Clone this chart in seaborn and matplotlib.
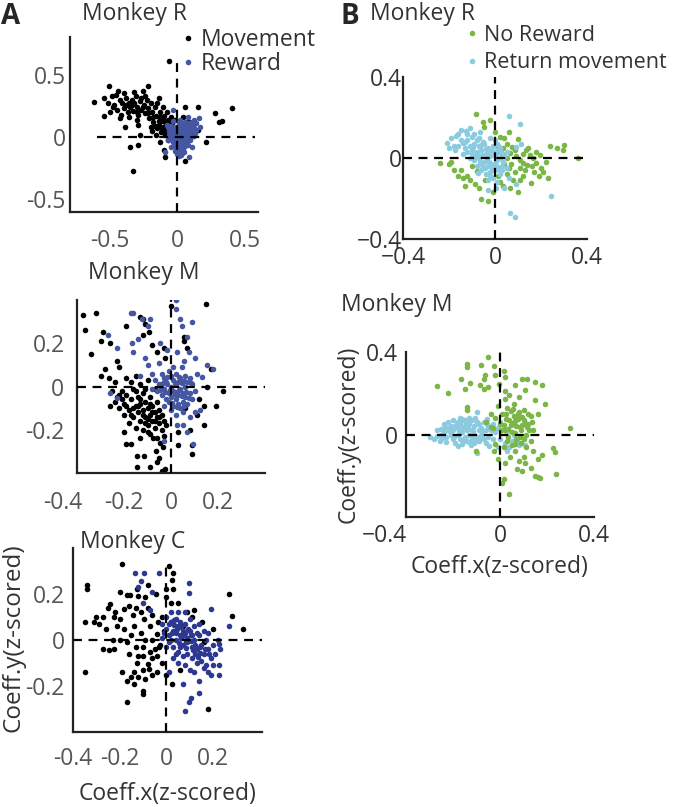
import numpy as np
import pandas as pd
import seaborn as sns
from matplotlib import pyplot as plt
from matplotlib.lines import Line2D
from matplotlib.transforms import ScaledTranslation

# Panel A, Monkey R  (Movement = black, Reward = blue)
mov_R = [(-0.62,0.28),(-0.55,0.31),(-0.51,0.41),(-0.49,0.33),(-0.47,0.26),(-0.44,0.37),(-0.45,0.22),(-0.43,0.30),
         (-0.41,0.27),(-0.40,0.23),(-0.38,0.31),(-0.37,0.20),(-0.36,0.27),(-0.35,0.24),(-0.34,0.30),(-0.33,0.21),
         (-0.32,0.27),(-0.31,0.33),(-0.30,0.24),(-0.29,0.18),(-0.28,0.29),(-0.27,0.22),(-0.26,0.37),(-0.25,0.26),
         (-0.24,0.19),(-0.23,0.30),(-0.22,0.41),(-0.22,0.23),(-0.21,0.15),(-0.20,0.27),(-0.19,0.20),(-0.18,0.12),
         (-0.17,0.24),(-0.16,0.17),(-0.15,0.27),(-0.14,0.31),(-0.14,0.10),(-0.13,0.20),(-0.12,0.13),(-0.11,0.24),
         (-0.10,0.08),(-0.10,0.17),(-0.09,0.12),(-0.08,0.05),(-0.08,0.20),(-0.07,0.14),(-0.06,0.09),(-0.05,0.03),
         (-0.05,0.16),(-0.04,0.11),(-0.12,0.04),(-0.15,0.07),(-0.17,0.09),(-0.19,0.05),(-0.13,0.16),(-0.11,0.06),
         (-0.09,0.02),(-0.07,-0.02),(-0.06,0.06),(-0.55,0.17),(-0.50,0.20),(-0.43,0.15),(-0.39,0.08),(-0.29,0.10),
         (-0.35,-0.08),(-0.29,-0.06),(-0.33,-0.27),(-0.28,0.02),(-0.13,-0.04),(-0.10,-0.10),(-0.09,-0.16),
         (-0.065,0.61),(0.06,0.24),(0.15,0.24),(0.28,0.19),(0.31,0.12),(0.33,0.13),(0.41,0.23),(0.21,-0.04),
         (0.06,-0.19),(0.15,0.06),(0.10,0.08),(0.04,0.16),(0.08,0.13),(-0.46,0.34),(-0.40,0.35),(-0.32,0.36),
         (-0.27,0.31),(-0.24,0.33),(-0.36,0.16),(-0.30,0.14),(-0.20,0.08),(-0.16,0.02),(-0.03,0.06),(-0.02,0.14),
         (0.02,0.10),(0.12,0.02),(-0.42,0.18),(-0.48,0.24),(-0.52,0.27),
         (-0.38,0.26),(-0.34,0.26),(-0.30,0.20),(-0.26,0.24),(-0.22,0.19),(-0.18,0.16),(-0.14,0.13),(-0.12,0.08),
         (-0.10,0.13),(-0.06,0.12)]
rew_R = [(0.00,0.00),(0.01,-0.02),(0.02,0.01),(-0.01,-0.04),(0.03,-0.03),(0.00,0.05),(0.02,0.06),(0.04,0.03),
         (0.05,0.07),(0.06,0.04),(0.07,0.08),(0.08,0.10),(0.09,0.06),(0.10,0.09),(0.11,0.12),(0.12,0.07),
         (0.08,0.02),(0.06,-0.01),(0.05,-0.05),(0.04,-0.08),(0.03,-0.11),(0.02,-0.13),(0.01,-0.15),(0.00,-0.12),
         (-0.01,-0.10),(-0.02,-0.07),(-0.03,-0.04),(-0.04,-0.01),(-0.05,0.02),(-0.06,0.05),(-0.07,0.08),
         (-0.08,0.10),(-0.05,0.09),(-0.03,0.06),(-0.02,0.03),(-0.01,0.08),(0.01,0.11),(0.03,0.09),(0.05,0.11),
         (0.07,0.05),(0.09,0.03),(0.10,0.04),(0.11,0.05),(0.13,0.03),(0.07,-0.03),(0.06,-0.07),(0.04,-0.10),
         (0.02,-0.09),(0.01,-0.06),(-0.01,-0.01),(0.00,0.02),(0.02,-0.05),(0.03,0.00),(0.04,0.05),(0.01,0.04),
         (-0.02,-0.11),(0.00,-0.08),(0.03,-0.14),(0.05,-0.12),(0.08,-0.06),(0.09,-0.02),(0.12,0.01),(0.14,0.06),
         (0.14,0.11),(0.12,0.14),(-0.06,0.02),(-0.04,0.07),(-0.07,-0.02),(-0.03,0.13),(-0.03,0.22),(0.08,0.16),
         (0.17,0.08),(0.085,-0.16),(-0.09,-0.12),(0.11,-0.08),(0.16,0.15),(-0.05,-0.08),(0.02,0.14),(0.06,0.12),
         (0.10,0.00),(0.015,-0.03),(0.035,0.02),(0.055,0.01),(-0.015,0.01),(0.025,-0.07),(0.045,-0.02),
         (0.065,0.09),(0.085,0.07),
         (0.005,0.035),(0.025,0.045),(0.045,0.065),(0.065,0.03),(0.085,0.045),(0.105,0.065),(0.095,0.11),
         (0.075,0.115),(-0.005,-0.055),(0.015,-0.09),(0.035,-0.06),(0.055,-0.035),(0.075,-0.015),(-0.025,0.05),
         (-0.045,0.04),(-0.055,0.075),(0.035,-0.125),(0.015,-0.115),(-0.005,-0.135),(0.045,0.09),(0.115,0.09),
         (0.125,0.11),(0.02,0.085),(-0.015,0.06),(0.005,0.065)]

# Panel A, Monkey M
mov_M = [(-0.375,0.33),(-0.32,0.34),(-0.365,0.26),(-0.29,0.25),(-0.30,0.21),(-0.26,0.20),(-0.34,0.15),(-0.19,0.28),
         (-0.13,0.32),(-0.11,0.29),(-0.095,0.25),(-0.12,0.24),(-0.08,0.19),(0.15,0.38),(0.00,0.37),(-0.03,0.18),
         (-0.025,0.13),(-0.23,0.12),(-0.22,0.09),(-0.30,0.05),(-0.28,0.08),(-0.265,0.04),(-0.24,0.02),(0.055,0.21),
         (0.07,0.18),(0.055,0.23),(-0.12,0.31),(-0.06,0.16),
         (-0.25,-0.02),(-0.23,-0.05),(-0.21,-0.02),(-0.20,-0.08),(-0.19,-0.04),(-0.18,-0.11),(-0.17,-0.06),
         (-0.16,-0.14),(-0.16,-0.01),(-0.15,-0.09),(-0.14,-0.05),(-0.14,-0.12),(-0.13,-0.16),(-0.13,-0.08),
         (-0.12,-0.11),(-0.12,-0.03),(-0.11,-0.14),(-0.11,-0.07),(-0.10,-0.10),(-0.10,-0.18),(-0.09,-0.13),
         (-0.09,-0.05),(-0.08,-0.09),(-0.08,-0.16),(-0.07,-0.12),(-0.07,-0.19),(-0.06,-0.14),(-0.06,-0.07),
         (-0.05,-0.17),(-0.05,-0.11),(-0.04,-0.20),(-0.04,-0.13),(-0.03,-0.16),(-0.03,-0.23),(-0.02,-0.18),
         (-0.18,-0.17),(-0.20,-0.13),(-0.22,-0.10),(-0.24,-0.07),(-0.26,-0.09),(-0.15,-0.19),(-0.12,-0.20),
         (-0.09,-0.22),(-0.06,-0.24),(-0.17,0.02),(-0.13,0.01),(-0.10,0.03),(-0.07,-0.01),(-0.19,0.04),
         (-0.15,0.05),(-0.11,-0.01),
         (-0.20,-0.21),(-0.19,-0.265),(-0.17,-0.265),(-0.145,-0.32),(-0.115,-0.32),(-0.145,-0.37),(-0.09,-0.37),
         (-0.06,-0.35),(-0.04,-0.39),(-0.025,-0.38),(-0.065,-0.30),(-0.045,-0.26),(-0.075,-0.24),(-0.13,-0.24),
         (-0.10,-0.21),(0.03,-0.21),(0.03,-0.27),(0.09,-0.31),(0.09,-0.27),(0.14,-0.18),(0.14,-0.09),(0.19,-0.09),
         (0.22,-0.02),(0.155,0.00),(0.17,0.08),(-0.05,-0.33),(-0.035,-0.28),(0.06,-0.10),(0.11,-0.13),
         (0.08,-0.20),(0.12,-0.06),
         (-0.14,-0.09),(-0.12,-0.13),(-0.10,-0.15),(-0.08,-0.12),(-0.16,-0.10),(-0.19,-0.09),(-0.21,-0.06),
         (-0.11,-0.17),(-0.07,-0.16),(-0.13,-0.06),(-0.05,-0.14),(-0.17,-0.13),(-0.09,-0.08),(-0.15,-0.02),
         (-0.22,-0.04)]
rew_M = [(0.02,0.40),(0.02,0.36),(0.04,0.31),(0.09,0.30),(0.047,0.28),(-0.16,0.34),(-0.125,0.31),(-0.09,0.31),
         (-0.27,0.24),(-0.23,0.18),(-0.165,0.20),(-0.16,0.16),(-0.11,0.13),(-0.10,0.10),(-0.045,0.20),(-0.017,0.17),
         (0.025,0.16),(0.075,0.16),(0.055,0.12),(0.155,0.10),(0.18,0.08),(0.13,0.045),(0.025,-0.18),(0.05,-0.18),
         (0.08,-0.14),(0.10,-0.12),(0.125,-0.11),(0.07,-0.21),(0.095,-0.265),(-0.03,-0.25),(-0.23,-0.055),
         (-0.26,-0.03),(-0.17,0.34),(-0.10,0.28),(-0.14,0.22),(0.07,0.23),(0.10,0.13),(0.045,0.09),(-0.05,0.11),
         (-0.08,0.06),(-0.13,0.05),(0.11,0.06),
         (0.00,0.00),(0.01,-0.02),(-0.01,-0.03),(0.02,0.01),(0.03,-0.04),(-0.02,0.02),(0.00,-0.05),(0.01,0.03),
         (-0.03,-0.01),(0.04,-0.01),(0.02,-0.06),(-0.01,-0.07),(0.03,0.02),(-0.04,-0.04),(0.05,-0.03),(0.00,0.05),
         (-0.02,-0.06),(0.04,0.04),(-0.05,0.01),(0.06,0.00),(0.01,-0.09),(0.03,-0.08),(-0.03,0.04),(0.05,-0.07),
         (0.06,-0.05),(0.07,0.02),(-0.06,-0.02),(0.02,0.06),(-0.01,0.07),(0.04,-0.10),(0.07,-0.08),(0.08,-0.03),
         (-0.07,0.03),(-0.04,0.06),(0.00,-0.11),(0.06,0.05),(0.08,0.04),(-0.08,-0.01),(0.09,-0.06),(0.05,-0.12),
         (0.02,-0.13),(-0.03,-0.09),(0.10,-0.02),(0.09,0.01),(0.01,0.09),(0.035,-0.015),(-0.015,0.01),
         (0.015,-0.035),(0.045,0.015),(-0.025,-0.025),
         (0.025,-0.025),(-0.005,-0.015),(0.015,0.015),(0.045,-0.045),(-0.035,0.015),(0.055,0.025),(0.005,-0.075),
         (0.035,0.045),(-0.045,-0.015),(0.065,-0.025),(0.025,-0.095),(-0.015,0.045),(0.075,-0.055),(0.055,-0.09),
         (0.085,0.015)]

# Panel A, Monkey C
mov_C = [(-0.19,0.33),(-0.34,0.24),(-0.34,0.22),(-0.35,0.08),(-0.31,0.08),(-0.29,0.07),(-0.35,-0.14),(-0.20,0.21),
         (-0.17,0.195),(-0.155,0.195),(-0.125,0.22),(-0.12,0.19),(-0.09,0.185),(-0.24,0.155),(-0.25,0.14),
         (-0.225,0.10),(-0.20,0.09),(-0.18,0.135),(-0.145,0.11),(-0.095,0.09),(-0.06,0.11),(-0.26,0.05),
         (-0.23,0.00),(-0.20,0.00),(-0.17,-0.01),(-0.225,-0.04),(-0.245,-0.045),(-0.12,-0.07),(-0.10,-0.07),
         (-0.125,-0.10),(-0.08,-0.105),(-0.06,-0.08),(-0.075,-0.125),(-0.10,-0.13),(-0.14,-0.14),(-0.19,-0.14),
         (-0.15,-0.16),(-0.14,-0.19),(-0.10,-0.22),(-0.10,-0.235),(-0.17,-0.27),(-0.04,-0.14),(0.00,-0.15),
         (0.023,-0.19),(0.01,0.32),(0.03,0.29),(0.025,0.26),(0.00,0.185),(0.02,0.16),(0.05,0.16),(0.09,0.12),
         (0.12,0.13),(0.155,0.077),(0.20,0.048),(0.27,0.20),(0.28,0.105),(0.33,0.05),(0.18,-0.30),(-0.025,-0.02),
         (-0.04,0.026),(-0.06,0.00),(-0.035,0.077),(-0.02,0.10),(-0.05,-0.04),
         (-0.22,0.12),(-0.16,0.15),(-0.13,0.14),(-0.11,0.12),(-0.08,0.14),(-0.07,0.06),(-0.14,0.06),(-0.18,0.05),
         (-0.21,0.06),(-0.27,0.10),(-0.15,0.02),(-0.11,0.03),(-0.09,0.00),(-0.13,-0.03),(-0.16,-0.06),
         (-0.10,-0.03),(-0.07,-0.05),(-0.04,-0.07),(-0.02,-0.10),(-0.09,-0.17),(-0.06,-0.15),(-0.12,-0.16),
         (-0.17,-0.18),(-0.03,-0.03),(-0.01,0.04),(0.02,0.08),(-0.045,0.20),(0.03,0.22),(-0.08,0.24),(0.00,0.22),
         (0.07,0.06),(0.11,0.10),(-0.30,0.10),(-0.27,-0.04),(0.16,-0.01),(0.06,-0.13)]
rew_C = [(-0.135,0.29),(-0.095,0.29),(-0.11,0.255),(-0.06,0.21),(-0.10,0.16),(-0.03,0.29),(0.097,0.25),
         (0.097,0.205),(0.19,0.135),(0.27,0.06),(0.226,-0.017),(0.23,-0.04),(0.226,-0.11),(0.226,-0.15),
         (0.19,-0.15),(0.16,-0.12),(0.14,-0.18),(0.104,-0.25),(0.097,-0.27),(0.08,-0.31),(0.14,-0.23),
         (0.011,-0.14),(0.07,-0.19),(-0.07,0.13),(-0.12,0.23),
         (0.00,0.05),(0.01,0.02),(0.02,0.08),(0.03,0.04),(0.04,0.00),(0.05,0.06),(0.06,0.02),(0.07,-0.02),
         (0.08,0.03),(0.09,-0.01),(0.10,0.04),(0.11,-0.03),(0.12,0.00),(0.13,-0.04),(0.14,0.02),(0.15,-0.02),
         (0.16,-0.06),(0.17,0.00),(0.18,-0.04),(0.19,-0.08),(0.20,-0.02),(0.21,-0.06),(0.22,0.00),(0.15,-0.09),
         (0.13,-0.10),(0.11,-0.08),(0.09,-0.06),(0.07,-0.07),(0.05,-0.05),(0.03,-0.03),(0.01,-0.01),(-0.01,0.03),
         (-0.02,0.07),(0.00,0.10),(0.02,0.12),(0.04,0.09),(0.06,0.08),(0.08,0.07),(0.10,0.09),(0.12,0.06),
         (0.14,0.07),(0.16,0.04),(0.18,0.03),(0.05,0.12),(0.08,0.12),(0.03,-0.08),(0.05,-0.10),(0.08,-0.11),
         (0.10,-0.13),(0.12,-0.14),(0.17,-0.11),(0.18,-0.14),(0.20,-0.11),(0.04,0.03),(0.06,-0.03),(0.09,0.01),
         (0.11,0.02),(0.13,0.03),(0.07,0.04),(0.02,0.00),(0.085,-0.035),(0.105,-0.005),(0.065,0.055),
         (0.035,0.065),(0.145,-0.055),(0.125,-0.06),(0.01,0.07),(0.00,-0.03),(-0.02,0.01),(0.04,-0.06),
         (0.025,0.03),(0.045,0.05),(0.065,0.01),(0.085,-0.01),(0.105,0.02),(0.125,-0.02),(0.145,-0.03),
         (0.165,-0.04),(0.185,-0.06),(0.095,0.05),(0.055,-0.015),(0.075,0.02),(0.115,-0.045),(0.135,-0.075),
         (0.035,0.085)]

# Panel B, Monkey R  (No Reward = green, Return movement = light blue)
norew_R = [(-0.084,0.216),(-0.052,0.18),(-0.02,0.187),(-0.05,0.155),(-0.24,-0.026),(-0.19,-0.018),(-0.18,-0.06),
           (-0.16,-0.09),(-0.14,-0.10),(-0.13,-0.14),(-0.12,-0.09),(-0.088,-0.13),(-0.06,-0.20),(-0.03,-0.21),
           (-0.10,-0.04),(-0.08,-0.065),(0.02,0.105),(0.04,0.097),(0.10,0.092),(0.035,0.048),(0.064,0.023),
           (0.086,0.04),(0.136,0.04),(0.15,0.015),(0.18,0.03),(0.195,0.015),(0.107,-0.01),(0.12,-0.026),
           (0.14,-0.034),(0.16,-0.04),(0.18,-0.026),(0.20,-0.05),(0.21,-0.07),(0.24,0.06),(0.27,0.047),
           (0.30,0.064),(0.295,0.04),(0.36,0.00),(0.157,-0.125),(0.10,-0.17),(0.107,-0.11),(0.064,-0.15),
           (0.035,-0.14),(0.02,-0.12),(0.013,-0.09),(0.05,-0.08),(0.078,-0.11),
           (0.03,0.02),(0.05,0.00),(0.07,-0.03),(0.09,0.01),(0.12,0.02),(0.13,-0.06),(0.11,-0.05),(0.085,-0.07),
           (0.06,-0.05),(0.04,-0.03),(0.02,-0.05),(0.01,0.03),(0.015,0.06),(0.05,0.07),(0.075,0.055),(0.165,0.00),
           (0.17,-0.07),(0.19,-0.09),(0.22,-0.02),(0.145,0.05),(-0.11,-0.11),(-0.15,-0.06),(-0.07,-0.15),
           (-0.045,-0.11),(-0.20,-0.03),(-0.01,-0.17),(0.00,0.13),(0.06,0.13),(0.23,-0.10),(0.12,-0.09)]
ret_R = [(0.06,0.207),(0.11,0.167),(-0.146,0.14),(-0.125,0.134),(-0.11,0.15),(-0.21,0.075),(-0.19,0.10),
         (-0.175,0.04),(-0.16,0.06),(-0.14,0.072),(-0.10,0.105),(-0.067,0.13),(-0.052,0.08),(0.245,-0.187),
         (0.064,-0.27),(0.085,-0.29),(-0.03,-0.157),(0.005,-0.15),(0.04,-0.15),(0.093,-0.13),(0.093,0.056),
         (0.115,0.07),(-0.08,0.09),(-0.12,0.09),(-0.17,0.11),(-0.18,0.06),(-0.13,0.05),(-0.20,0.05),(-0.09,0.12),
         (-0.10,0.02),(-0.09,-0.01),(-0.08,0.03),(-0.07,0.00),(-0.06,0.04),(-0.05,-0.02),(-0.04,0.02),
         (-0.03,-0.04),(-0.02,0.01),(-0.01,-0.03),(0.00,0.02),(0.01,-0.01),(0.02,0.00),(0.03,-0.04),(0.04,0.01),
         (-0.08,-0.04),(-0.06,-0.06),(-0.04,-0.08),(-0.02,-0.07),(0.00,-0.06),(0.02,-0.08),(-0.07,0.06),
         (-0.05,0.07),(-0.03,0.05),(-0.01,0.06),(0.01,0.04),(-0.11,0.00),(-0.12,0.03),(-0.095,0.055),
         (-0.045,-0.05),(-0.025,-0.02),(-0.015,0.035),(0.005,-0.035),(0.025,0.03),(-0.065,-0.02),(-0.085,0.01),
         (-0.035,0.00),(0.015,-0.055),(-0.055,0.015),(0.035,-0.02),(-0.01,-0.10),(-0.03,-0.11),(0.01,-0.12),
         (0.05,-0.05),(0.06,-0.10),(-0.075,-0.075),(-0.14,0.02),(0.00,0.09),(-0.02,0.10),(0.05,0.03),
         (-0.055,-0.035),(-0.035,0.03),(-0.015,-0.05),(0.005,0.01),(0.02,0.05),(-0.08,0.015),(-0.06,0.065),
         (-0.04,0.045),(-0.10,0.04),(-0.11,0.06),(-0.13,0.08),(-0.15,0.09),(0.03,-0.06),(-0.02,-0.09),
         (0.00,-0.03),(-0.09,0.07),(-0.16,0.12),(-0.07,0.10),(-0.12,0.12),(0.01,0.07)]

# Panel B, Monkey M
norew_M = [(-0.05,0.377),(-0.14,0.34),(-0.14,0.325),(-0.08,0.337),(-0.024,0.33),(0.015,0.31),(0.023,0.28),
           (-0.27,0.234),(-0.22,0.20),(-0.167,0.267),(-0.128,0.25),(-0.15,0.223),(-0.062,0.29),(-0.07,0.27),
           (-0.083,0.24),(-0.066,0.223),(-0.05,0.23),(-0.02,0.29),(-0.005,0.247),(0.022,0.21),(0.065,0.24),
           (0.093,0.27),(0.114,0.27),(0.107,0.215),(0.15,0.255),(0.177,0.24),(0.15,0.166),(0.19,0.15),
           (0.163,0.10),(0.297,0.033),(-0.14,0.133),(-0.14,0.12),(0.227,-0.067),(0.234,-0.086),(0.24,-0.19),
           (0.15,-0.20),(0.16,-0.205),(0.17,-0.21),(0.163,-0.12),(0.10,-0.11),(0.107,-0.14),(0.093,-0.175),
           (0.072,-0.167),(0.044,-0.11),(0.065,-0.078),(0.015,-0.216),(0.01,-0.235),(0.04,-0.29),(-0.024,-0.08),
           (-0.104,-0.078),(-0.02,-0.045),(-0.04,0.036),
           (0.00,0.05),(0.01,0.10),(0.02,0.02),(0.03,0.13),(0.04,0.07),(0.05,0.01),(0.06,0.09),(0.07,0.04),
           (0.08,0.11),(0.09,0.02),(0.10,0.07),(0.11,0.00),(0.12,0.05),(0.13,0.09),(0.14,0.02),(0.03,-0.03),
           (0.05,-0.05),(0.07,-0.02),(0.09,-0.04),(0.11,-0.06),(0.13,-0.03),(0.02,0.17),(0.04,0.19),(0.06,0.15),
           (0.08,0.18),(0.10,0.12),(0.12,0.10),(-0.02,0.08),(-0.04,0.10),(-0.06,0.06),(-0.03,0.03),(0.015,0.045),
           (0.035,0.025),(0.055,0.055),(0.075,0.075),(0.095,0.045),(0.115,0.035),(0.085,-0.01),(0.065,0.005),
           (0.045,0.115),(0.025,0.075),(-0.01,0.14),(0.14,-0.08),(0.18,-0.10),(0.13,-0.16),(0.08,-0.13),
           (0.02,-0.14),(-0.01,-0.12),
           (0.045,0.045),(0.065,0.065),(0.085,0.035),(0.105,0.055),(0.125,0.02),(0.025,0.10),(0.055,0.125),
           (0.075,0.10),(0.095,0.085),(0.035,-0.01),(0.065,-0.045),(0.10,-0.02),(0.135,0.06),(0.005,0.02),
           (0.015,-0.06)]
ret_M = [(-0.30,-0.01),(-0.266,-0.005),(-0.25,0.028),(-0.24,0.052),(-0.22,0.03),(-0.20,0.068),(-0.18,0.06),
         (-0.16,0.076),(-0.14,0.065),(-0.10,0.11),(-0.055,0.076),(-0.255,-0.03),(-0.23,-0.037),(-0.18,-0.054),
         (-0.16,-0.045),(-0.13,-0.037),(-0.104,-0.03),(-0.076,-0.016),(-0.048,-0.054),(0.03,-0.078),
         (0.107,-0.05),(0.072,-0.03),
         (-0.24,0.01),(-0.23,-0.01),(-0.22,0.06),(-0.21,0.00),(-0.20,0.02),(-0.20,-0.02),(-0.19,0.04),
         (-0.18,0.00),(-0.18,0.03),(-0.17,-0.02),(-0.17,0.05),(-0.16,0.01),(-0.16,0.03),(-0.15,-0.01),
         (-0.15,0.04),(-0.14,0.02),(-0.14,-0.03),(-0.13,0.00),(-0.13,0.05),(-0.12,0.02),(-0.12,-0.02),
         (-0.11,0.04),(-0.11,0.00),(-0.10,0.06),(-0.10,-0.01),(-0.09,0.02),(-0.09,0.05),(-0.08,0.00),
         (-0.08,0.03),(-0.07,0.06),(-0.07,-0.02),(-0.06,0.02),(-0.05,0.04),(-0.05,-0.01),(-0.04,0.02),
         (-0.03,0.05),(-0.03,-0.02),(-0.02,0.01),(-0.01,0.03),(0.00,-0.02),(0.01,0.02),(0.02,-0.04),(0.03,0.01),
         (0.05,-0.03),(0.06,0.00),(0.08,-0.05),(-0.21,0.04),(-0.19,-0.04),(-0.17,0.08),(-0.15,0.07),(-0.12,0.07),
         (-0.13,0.08),(-0.11,-0.04),(-0.09,-0.03),(-0.06,-0.04),(-0.25,0.00),(-0.27,0.02),(-0.28,-0.02),
         (-0.10,-0.09),(-0.01,-0.06),(0.00,0.06),(0.04,-0.06),
         (-0.215,0.015),(-0.195,-0.01),(-0.175,0.015),(-0.155,-0.03),(-0.135,0.03),(-0.115,0.015),(-0.095,-0.015),
         (-0.075,0.015),(-0.055,0.05),(-0.185,0.055),(-0.165,0.065),(-0.145,0.055),(-0.125,-0.05),(-0.105,0.08),
         (-0.235,0.035),(-0.245,-0.015)]

BLACK = '#000000'
BLUE = '#4557a3'
NAVY = '#2d3990'
GREEN = '#7ab648'
LBLUE = '#8ccbdf'
GRAY = '#555555'
DARK = '#333333'
FS = 16.5

sns.set_style('white')
plt.rcParams['font.family'] = ['Open Sans', 'DejaVu Sans']

W, H = 677, 807
fig = plt.figure(figsize=(W / 100, H / 100), dpi=100)


def px_axes(x0, y0, x1, y1):
    return fig.add_axes([x0 / W, 1 - y1 / H, (x1 - x0) / W, (y1 - y0) / H])


def scatter(ax, pts, color):
    d = pd.DataFrame(pts, columns=['x', 'y'])
    sns.scatterplot(data=d, x='x', y='y', ax=ax, color=color, s=16, linewidth=0, legend=False)


def style(ax, xlim, ylim, xt, yt, xl, yl, lab_col, xpad, ypad):
    ax.set_xlim(xlim)
    ax.set_ylim(ylim)
    ax.set_xticks(xt)
    ax.set_yticks(yt)
    ax.set_xticklabels(xl)
    ax.set_yticklabels(yl)
    ax.set_xlabel('')
    ax.set_ylabel('')
    for s in ['top', 'right']:
        ax.spines[s].set_visible(False)
    for s in ['left', 'bottom']:
        ax.spines[s].set_linewidth(1.6)
        ax.spines[s].set_color('#222222')
    ax.tick_params(axis='both', direction='in', length=3, width=1.2, labelsize=FS,
                   labelcolor=lab_col, color='#222222')
    ax.tick_params(axis='x', pad=xpad)
    ax.tick_params(axis='y', pad=ypad)
    ax.set_facecolor('none')


def dashes(ax, hx, vy):
    ax.hlines(0, hx[0], hx[1], colors='k', linestyles=(0, (4, 3)), linewidth=1.6, zorder=3)
    ax.vlines(0, vy[0], vy[1], colors='k', linestyles=(0, (4, 3)), linewidth=1.6, zorder=3)


def shift_first_xlabel(ax, dx):
    lab = ax.get_xticklabels()[0]
    lab.set_transform(lab.get_transform() + ScaledTranslation(dx / 100, 0, fig.dpi_scale_trans))


# ---- A: Monkey R
ax1 = px_axes(70, 37, 258, 212)
scatter(ax1, mov_R, BLACK)
scatter(ax1, rew_R, BLUE)
dashes(ax1, (-0.6, 0.58), (-0.6, 0.6))
style(ax1, (-0.8, 0.6), (-0.6, 0.8), [-0.5, 0, 0.5], [-0.5, 0, 0.5],
      ['-0.5', '0', '0.5'], ['-0.5', '0', '0.5'], GRAY, 12, 3)

# ---- A: Monkey M
ax2 = px_axes(77, 300, 265, 473)
scatter(ax2, mov_M, BLACK)
scatter(ax2, rew_M, BLUE)
dashes(ax2, (-0.4, 0.4), (-0.4, 0.4))
style(ax2, (-0.4, 0.4), (-0.4, 0.4), [-0.4, -0.2, 0, 0.2], [-0.2, 0, 0.2],
      ['-0.4', '-0.2', '0', '0.2'], ['-0.2', '0', '0.2'], GRAY, 13, 9)
shift_first_xlabel(ax2, -14)

# ---- A: Monkey C
ax3 = px_axes(73, 548, 262, 732)
scatter(ax3, mov_C, BLACK)
scatter(ax3, rew_C, NAVY)
dashes(ax3, (-0.4, 0.41), (-0.4, 0.33))
style(ax3, (-0.4, 0.41), (-0.4, 0.4), [-0.4, -0.2, 0, 0.2], [-0.2, 0, 0.2],
      ['-0.4', '-0.2', '0', '0.2'], ['-0.2', '0', '0.2'], GRAY, 11, 6)
ax3.set_ylabel('Coeff.y(z-scored)', fontsize=17.5, color=DARK)
ax3.yaxis.set_label_coords((26 - 73) / 189, (732 - 638) / 184)
ax3.set_xlabel('Coeff.x(z-scored)', fontsize=FS, color=DARK)
ax3.xaxis.set_label_coords(0.5, -(782 - 732) / 184)

# ---- B: Monkey R
bt = [-0.4, -0.2, 0, 0.2, 0.4]
bl = ['\u22120.4', '', '0', '', '0.4']
ax4 = px_axes(403, 77, 587, 239)
scatter(ax4, norew_R, GREEN)
scatter(ax4, ret_R, LBLUE)
dashes(ax4, (-0.4, 0.4), (-0.4, 0.4))
style(ax4, (-0.4, 0.4), (-0.4, 0.4), bt, bt, bl, bl, DARK, 5, 1)

# ---- B: Monkey M
ax5 = px_axes(406, 352, 594, 517)
scatter(ax5, ret_M, LBLUE)
scatter(ax5, norew_M, GREEN)
dashes(ax5, (-0.4, 0.4), (-0.4, 0.4))
style(ax5, (-0.4, 0.4), (-0.4, 0.4), bt, bt, bl, ['', '', '0', '', '0.4'], DARK, 5, 6)
shift_first_xlabel(ax5, -22)
ax5.set_ylabel('Coeff.y(z-scored)', fontsize=FS, color=DARK)
ax5.yaxis.set_label_coords((361 - 406) / 188, 0.5)
ax5.set_xlabel('Coeff.x(z-scored)', fontsize=FS, color=DARK)
ax5.xaxis.set_label_coords(0.5, -(555 - 517) / 165)

# legends
h1 = [Line2D([], [], ls='', marker='o', ms=4, mec='none', mfc=BLACK),
      Line2D([], [], ls='', marker='o', ms=4, mec='none', mfc=BLUE)]
fig.legend(h1, ['Movement', 'Reward'], loc='upper left', bbox_to_anchor=(171 / W, 1 - 17 / H),
           frameon=False, fontsize=FS, handlelength=0.5, handletextpad=0.3, labelspacing=0.0,
           borderpad=0, labelcolor=DARK)
h2 = [Line2D([], [], ls='', marker='o', ms=4, mec='none', mfc=GREEN),
      Line2D([], [], ls='', marker='o', ms=4, mec='none', mfc=LBLUE)]
fig.legend(h2, ['No Reward', 'Return movement'], loc='upper left', bbox_to_anchor=(456 / W, 1 - 14 / H),
           frameon=False, fontsize=15.5, handlelength=0.5, handletextpad=0.3, labelspacing=0.3,
           borderpad=0, labelcolor=DARK)

# titles and panel letters
for x, y, t in [(135, 14, 'Monkey R'), (144, 273, 'Monkey M'), (133, 542, 'Monkey C'),
                (423, 14, 'Monkey R'), (397, 305, 'Monkey M')]:
    fig.text(x / W, 1 - y / H, t, fontsize=FS, color=DARK, ha='center', va='center')
fig.text(1 / W, 1 - 17 / H, 'A', fontsize=20, fontweight='bold', ha='left', va='center')
fig.text(340 / W, 1 - 17 / H, 'B', fontsize=20, fontweight='bold', ha='left', va='center')

fig.savefig('out.png', dpi=100)
